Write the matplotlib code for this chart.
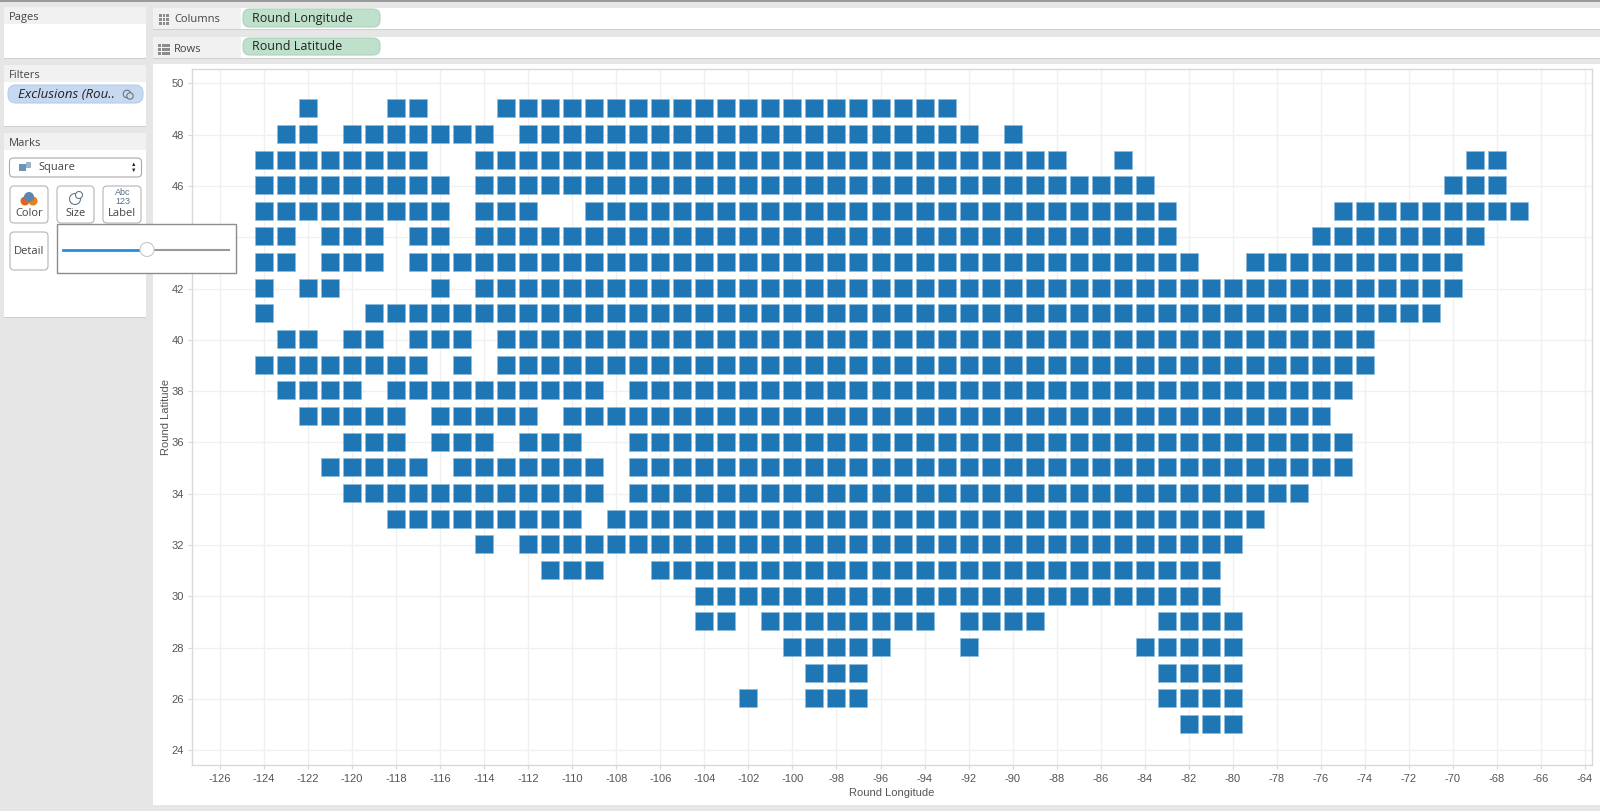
import matplotlib
matplotlib.use('Agg')
import matplotlib.pyplot as plt
from matplotlib.patches import Rectangle, FancyBboxPatch, Circle
from matplotlib.transforms import ScaledTranslation

W, H = 1600, 811

# latitude of each row, and the longitude runs (first, last) filled in that row
lats = [49, 48, 47, 46, 45, 44, 43, 42, 41, 40, 39, 38, 37,
        36, 35, 34, 33, 32, 31, 30, 29, 28, 27, 26, 25]
lon_runs = [
    [(-122, -122), (-118, -117), (-113, -93)],
    [(-123, -122), (-120, -114), (-112, -92), (-90, -90)],
    [(-124, -117), (-114, -88), (-85, -85), (-69, -68)],
    [(-124, -116), (-114, -84), (-70, -68)],
    [(-124, -116), (-114, -112), (-109, -83), (-75, -67)],
    [(-124, -123), (-121, -119), (-117, -116), (-114, -83), (-76, -69)],
    [(-124, -123), (-121, -119), (-117, -82), (-79, -70)],
    [(-124, -124), (-122, -121), (-116, -116), (-114, -70)],
    [(-124, -124), (-119, -71)],
    [(-123, -122), (-120, -119), (-117, -115), (-113, -74)],
    [(-124, -117), (-115, -115), (-113, -74)],
    [(-123, -120), (-118, -109), (-107, -75)],
    [(-122, -118), (-116, -112), (-110, -76)],
    [(-120, -118), (-116, -114), (-112, -110), (-107, -75)],
    [(-121, -117), (-115, -109), (-107, -75)],
    [(-120, -109), (-107, -77)],
    [(-118, -110), (-108, -79)],
    [(-114, -114), (-112, -80)],
    [(-111, -109), (-106, -81)],
    [(-104, -81)],
    [(-104, -103), (-101, -94), (-92, -89), (-83, -80)],
    [(-100, -96), (-92, -92), (-84, -80)],
    [(-99, -97), (-83, -80)],
    [(-102, -102), (-99, -97), (-83, -80)],
    [(-82, -80)],
]
lon_ticks = list(range(-126, -62, 2))
lat_ticks = list(range(24, 52, 2))

x_vals = []
y_vals = []
for lat, runs in zip(lats, lon_runs):
    for first, last in runs:
        for lon in range(first, last + 1):
            x_vals.append(lon)
            y_vals.append(lat)

BLUE = '#1f76b4'
TXT = '#444444'
plt.rcParams['font.family'] = ['Liberation Sans', 'DejaVu Sans']
plt.rcParams['axes.unicode_minus'] = False

fig = plt.figure(figsize=(W / 100, H / 100), dpi=100, facecolor='#e6e6e6')


def px_axes(z):
    a = fig.add_axes([0, 0, 1, 1], zorder=z)
    a.set_xlim(0, W)
    a.set_ylim(H, 0)
    a.axis('off')
    a.patch.set_alpha(0)
    return a


def box(a, x0, y0, x1, y1, fc='white', ec='none', lw=0.8, z=2):
    a.add_patch(Rectangle((x0, y0), x1 - x0, y1 - y0, fc=fc, ec=ec, lw=lw, zorder=z))


def pill(a, x0, y0, x1, y1, fc, ec, r=7, lw=0.8, z=3):
    a.add_patch(FancyBboxPatch((x0 + r, y0 + r), x1 - x0 - 2 * r, y1 - y0 - 2 * r,
                               boxstyle='round,pad=%d,rounding_size=%d' % (r, r),
                               fc=fc, ec=ec, lw=lw, zorder=z))


def label(a, x, y, s, size=8.5, color=TXT, ha='left', **kw):
    a.text(x, y, s, fontsize=size, color=color, ha=ha, va='center',
           family=['Open Sans', 'DejaVu Sans'], zorder=6, **kw)


bg = px_axes(0)
box(bg, 0, 0, W, 1.5, fc='#9a9a9a')

# left side panels
for y0, y1, yh, name in [(7, 58, 24, 'Pages'), (65, 126, 82, 'Filters'), (133, 317, 150, 'Marks')]:
    box(bg, 4, y0, 146, y1, fc='white')
    box(bg, 4, y0, 146, yh, fc='#f1f1f1')
    box(bg, 4, y1 - 0.5, 146, y1 + 1, fc='#cfcfcf')
    label(bg, 9, (y0 + yh) / 2 + 2, name, size=8)

pill(bg, 8, 85, 143, 103, '#c6d9f0', '#b5cdea', r=8)
label(bg, 18, 94.5, 'Exclusions (Rou..', size=9.5, color='#222222', style='italic')
bg.add_patch(Circle((127, 94), 3.8, fc='none', ec='#666666', lw=0.7, zorder=6))
bg.add_patch(Circle((130, 96), 3.2, fc='#c6d9f0', ec='#666666', lw=0.7, zorder=6))

pill(bg, 9.5, 158, 141.5, 177, 'white', '#aaaaaa', r=4)
box(bg, 19, 164, 26, 171, fc='#6f93b3', z=6)
box(bg, 26, 161.5, 31, 168, fc='#9ab4cb', z=6)
label(bg, 38, 167.5, 'Square', size=8)
bg.text(133.5, 164.5, '\u25b2', fontsize=4, color='#222222', ha='center', va='center', zorder=6)
bg.text(133.5, 170.5, '\u25bc', fontsize=4, color='#222222', ha='center', va='center', zorder=6)

for x0, x1, y0, y1, name in [(10, 48, 186, 223, 'Color'), (57, 94, 186, 223, 'Size'),
                             (103, 141, 186, 223, 'Label'), (10, 48, 232, 270, 'Detail')]:
    pill(bg, x0, y0, x1, y1, 'white', '#b5b5b5', r=4)
    label(bg, (x0 + x1) / 2, y1 - 9.5 if name != 'Detail' else 251, name, size=8, ha='center')
bg.add_patch(Circle((25, 201), 4.5, fc='#e2641f', ec='none', zorder=6))
bg.add_patch(Circle((33, 201), 4.5, fc='#e8801f', ec='none', zorder=6))
bg.add_patch(Circle((29, 197), 5, fc='#5b86ad', ec='none', zorder=7))
bg.add_patch(Circle((75, 199), 5.5, fc='white', ec='#667788', lw=0.8, zorder=6))
bg.add_patch(Circle((79, 195), 3.5, fc='white', ec='#667788', lw=0.8, zorder=7))
bg.text(122.5, 197, 'Abc\n123', fontsize=6.5, color='#5a6f85', ha='center', va='center',
        linespacing=0.9, zorder=6)

# shelves
for y0, y1, py0, py1, name, field in [(8, 29, 9, 27, 'Columns', 'Round Longitude'),
                                      (37, 58, 38, 55, 'Rows', 'Round Latitude')]:
    box(bg, 153, y0, W, y1, fc='white')
    box(bg, 153, y0, 241, y1, fc='#f1f1f1')
    box(bg, 153, y1 - 0.5, W, y1 + 0.8, fc='#cfcfcf')
    label(bg, 174, (y0 + y1) / 2 + 1.5, name, size=8)
    pill(bg, 243, py0, 380, py1, '#bfe0cb', '#aed2bb', r=7)
    label(bg, 252, (py0 + py1) / 2 + 0.3, field, size=9, color='#222222')
for col in range(3):
    for row in range(3):
        box(bg, 159 + col * 3.6, 13.5 + row * 4, 161.6 + col * 3.6, 16.5 + row * 4, fc='#8c8c8c', z=6)
for row in range(3):
    box(bg, 158, 43.5 + row * 4, 161, 46.5 + row * 4, fc='#8c8c8c', z=6)
    box(bg, 162, 43.5 + row * 4, 170, 46.5 + row * 4, fc='#8c8c8c', z=6)

# chart panel
box(bg, 153, 64, W, 805, fc='white')

# chart axes, placed by pixel edges of the plot frame
left, right, top, bottom = 192.3, 1591.6, 68.5, 765.3
ax = fig.add_axes([left / W, 1 - bottom / H, (right - left) / W, (bottom - top) / H], zorder=1)
ax.patch.set_alpha(0)
ax.set_xlim(-127.26, -63.7)
ax.set_ylim(23.415, 50.58)
nudge = ScaledTranslation(0, 0.8 / 100, fig.dpi_scale_trans)
ax.scatter(x_vals, y_vals, marker='s', s=176, c=BLUE, edgecolors='#8fbbdc', linewidths=0.5,
           zorder=3, transform=ax.transData + nudge)
ax.set_xticks(lon_ticks)
ax.set_yticks(lat_ticks)
ax.grid(True, color='#f0f0f0', lw=1)
ax.set_axisbelow(True)
for s in ax.spines.values():
    s.set_color('#d9d9d9')
    s.set_linewidth(1)
ax.tick_params(axis='both', length=3, width=0.8, color='#d9d9d9', labelcolor='#555555', labelsize=8, pad=3)
ax.set_xlabel('Round Longitude', fontsize=8, color='#555555', labelpad=3.5)
ax.set_ylabel('Round Latitude', fontsize=8, color='#555555', labelpad=0.5)

# size slider popup sits on top of the chart
fg = px_axes(2)
box(fg, 56.5, 223.5, 235.5, 272.5, fc='white', ec='#8c8c8c', lw=1)
fg.plot([147, 229], [249.5, 249.5], color='#9a9a9a', lw=1.5, zorder=4)
fg.plot([63, 147], [249.5, 249.5], color='#1e90e8', lw=2, zorder=4)
fg.add_patch(Circle((147, 249.5), 7, fc='white', ec='#c8c8c8', lw=0.8, zorder=5))

fig.savefig('out.png', dpi=100, facecolor=fig.get_facecolor())
plt.close()
